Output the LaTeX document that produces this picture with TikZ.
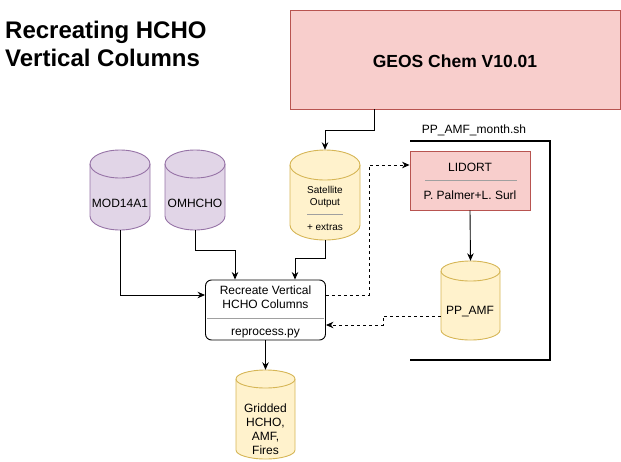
\documentclass[tikz,border=0pt]{standalone}
\usepackage{fontspec}
\setmainfont{Liberation Sans}
\usetikzlibrary{arrows.meta}
\definecolor{pinkF}{HTML}{F8CECC}
\definecolor{pinkD}{HTML}{B85450}
\definecolor{purF}{HTML}{E1D5E7}
\definecolor{purD}{HTML}{9673A6}
\definecolor{yelF}{HTML}{FFF2CC}
\definecolor{yelD}{HTML}{D6B656}
\definecolor{sepC}{HTML}{A0A0A0}
\tikzset{
  conn/.style={line width=0.9pt,-{Stealth[length=7.5pt,width=6.5pt]}},
  dconn/.style={conn,dash pattern=on 3pt off 3pt},
  lbl/.style={font=\fontsize{12}{14}\selectfont,inner sep=0pt,align=center},
  small/.style={font=\fontsize{10}{12}\selectfont,inner sep=0pt,align=center},
  sepline/.style={draw=sepC,line width=0.8pt},
}
% name, x1, ytop, x2, ybottom, ry, fill, draw
\newcommand\mycyl[8]{%
  \pgfmathsetmacro\cxa{#2}\pgfmathsetmacro\cya{#3}%
  \pgfmathsetmacro\cxb{#4}\pgfmathsetmacro\cyb{#5}%
  \pgfmathsetmacro\cry{#6}\pgfmathsetmacro\crx{(#4-#2)/2}%
  \filldraw[fill=#7,draw=#8,line width=0.9pt] (\cxa,-\cya-\cry) -- (\cxa,-\cyb+\cry)
     arc[start angle=180,end angle=360,x radius=\crx pt,y radius=\cry pt]
     -- (\cxb,-\cya-\cry)
     arc[start angle=0,end angle=180,x radius=\crx pt,y radius=\cry pt] -- cycle;
  \draw[draw=#8,line width=0.9pt] (\cxa,-\cya-\cry)
     arc[start angle=180,end angle=360,x radius=\crx pt,y radius=\cry pt];
  \node[inner sep=0pt,minimum width=\cxb pt-\cxa pt,minimum height=\cyb pt-\cya pt] (#1) at ({(\cxa+\cxb)/2},{-(\cya+\cyb)/2}) {};
}
\begin{document}
\begin{tikzpicture}[x=1pt,y=1pt]
\useasboundingbox (0,0) rectangle (621,-461);
% title
\node[anchor=base west,inner sep=0pt,font=\fontsize{24}{28}\bfseries] (t1) at (5,-38) {Recreating HCHO};
\node[anchor=base west,inner sep=0pt,font=\fontsize{24}{28}\bfseries] (t2) at (5,-66) {Vertical Columns};
% GEOS
\node[draw=pinkD,fill=pinkF,line width=0.9pt,minimum width=330pt,minimum height=99pt,inner sep=0pt] (geos) at (455,-59.5) {};
\node[anchor=base,inner sep=0pt,font=\fontsize{17.5}{20}\bfseries] (geost) at (455,-67) {GEOS Chem V10.01};
% bracket
\draw[line width=2pt] (410,-140.5) -- (550,-140.5) -- (550,-360) -- (410,-360);
\node[lbl,anchor=base] (pplbl) at (474,-133) {PP\_AMF\_month.sh};
% LIDORT
\node[draw=pinkD,fill=pinkF,line width=0.9pt,minimum width=120pt,minimum height=59pt,inner sep=0pt] (lid) at (470,-180.5) {};
\node[lbl,anchor=base] (lidt) at (470,-171) {LIDORT};
\draw[sepline] (425,-180.5) -- (517,-180.5);
\node[lbl,anchor=base] (lidb) at (470,-199) {P. Palmer+L. Surl};
% cylinders
\mycyl{mod}{90}{150}{150}{230}{14}{purF}{purD}
\node[lbl] (modt) at (120,-203) {MOD14A1};
\mycyl{omh}{165}{150}{225}{230}{14}{purF}{purD}
\node[lbl] (omht) at (195,-203) {OMHCHO};
\mycyl{sat}{290}{150}{360}{240}{15}{yelF}{yelD}
\node[small,anchor=base] (satt1) at (325,-193.5) {Satellite};
\node[small,anchor=base] (satt2) at (325,-205.5) {Output};
\draw[sepline] (307,-214.5) -- (343,-214.5);
\node[small,anchor=base] (satt3) at (325,-230) {+ extras};
\mycyl{ppa}{441}{261}{500}{340}{10}{yelF}{yelD}
\node[lbl] (ppat) at (470,-312) {PP\_AMF};
\mycyl{grd}{236}{370}{295}{459}{9}{yelF}{yelD}
\node[lbl,anchor=base] (grd1) at (265.5,-412) {Gridded};
\node[lbl,anchor=base] (grd2) at (265.5,-426) {HCHO,};
\node[lbl,anchor=base] (grd3) at (265.5,-440) {AMF,};
\node[lbl,anchor=base] (grd4) at (265.5,-454) {Fires};
% Recreate box
\node[draw,rounded corners=6pt,line width=0.9pt,fill=white,minimum width=120pt,minimum height=60pt,inner sep=0pt] (rec) at (265.5,-310) {};
\node[lbl,anchor=base] (rec1) at (265.5,-294) {Recreate Vertical};
\node[lbl,anchor=base] (rec2) at (265.5,-308) {HCHO Columns};
\draw[sepline] (207,-318) -- (324,-318);
\node[lbl,anchor=base] (rec3) at (265.5,-335) {reprocess.py};
% connectors
\draw[conn] (geos.south -| 374,0) |- (325,-130) -- (sat.north);
\draw[conn] (mod.south) |- (rec.west |- 0,-295);
\draw[conn] (omh.south) |- (235,-250) -- (rec.north -| 235,0);
\draw[conn] (sat.south) |- (295,-258) -- (rec.north -| 295,0);
\draw[dconn] (rec.east |- 0,-295) -| (369,-165) -- (lid.west |- 0,-165);
\draw[conn] (lid.south) -- (ppa.north);
\draw[dconn] (ppa.west |- 0,-316) -| (383,-325) -- (rec.east |- 0,-325);
\draw[conn] (rec.south) -- (grd.north);
\end{tikzpicture}
\end{document}
